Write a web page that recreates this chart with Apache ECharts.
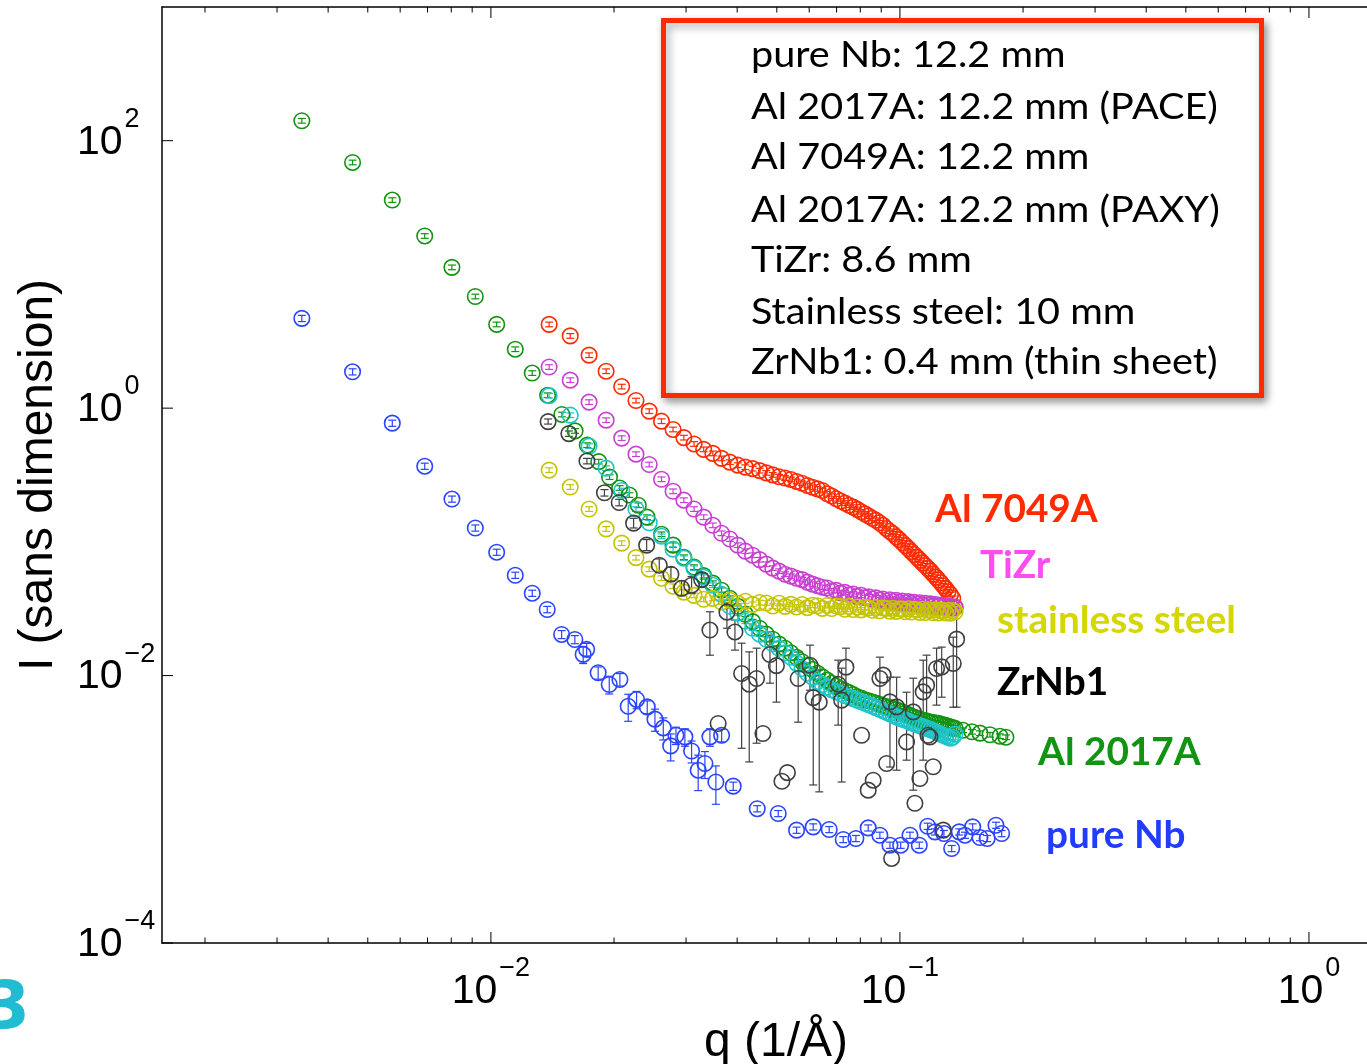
<!DOCTYPE html>
<html>
<head>
<meta charset="utf-8">
<script src="https://cdn.jsdelivr.net/npm/echarts@6/dist/echarts.min.js"></script>
<style>
  html, body { margin: 0; padding: 0; background: #fff; }
  #chart { width: 1367px; height: 1064px; }
</style>
</head>
<body>
<div id="chart"></div>
<script>
// q grid shared by the PAXY runs (1/Å)
const qGrid = [0.01388, 0.01563, 0.01738, 0.01913, 0.02088, 0.02263, 0.02438, 0.02613, 0.02788, 0.02963,
  0.03138, 0.03313, 0.03488, 0.03663, 0.03838, 0.04013, 0.04188, 0.04363, 0.04538, 0.04713,
  0.04888, 0.05063, 0.05238, 0.05413, 0.05588, 0.05763, 0.05938, 0.06113, 0.06288, 0.06463,
  0.06638, 0.06813, 0.06988, 0.07163, 0.07338, 0.07513, 0.07688, 0.07863, 0.08038, 0.08213,
  0.08388, 0.08563, 0.08738, 0.08913, 0.09088, 0.09263, 0.09438, 0.09613, 0.09788, 0.09963,
  0.1014, 0.1031, 0.1049, 0.1066, 0.1084, 0.1101, 0.1119, 0.1136, 0.1154, 0.1171,
  0.1189, 0.1206, 0.1224, 0.1241, 0.1259, 0.1276, 0.1294, 0.1311, 0.1329, 0.1346, 0.1364];

// Al 7049A
const al7049I = [4.23, 3.47, 2.49, 1.89, 1.45, 1.14, 0.950, 0.799, 0.693, 0.602,
  0.540, 0.492, 0.459, 0.421, 0.395, 0.375, 0.362, 0.353, 0.341, 0.328,
  0.317, 0.307, 0.300, 0.293, 0.283, 0.274, 0.264, 0.256, 0.249, 0.242,
  0.229, 0.220, 0.210, 0.202, 0.195, 0.188, 0.182, 0.175, 0.168, 0.162,
  0.156, 0.150, 0.145, 0.139, 0.133, 0.126, 0.120, 0.115, 0.109, 0.104,
  0.0986, 0.0937, 0.0890, 0.0845, 0.0805, 0.0766, 0.0730, 0.0693, 0.0663, 0.0633,
  0.0604, 0.0573, 0.0545, 0.0520, 0.0494, 0.0470, 0.0447, 0.0424, 0.0403, 0.0379, 0.0325];

// TiZr
const tizrI = [2.03, 1.62, 1.11, 0.813, 0.597, 0.453, 0.379, 0.294, 0.239, 0.205,
  0.176, 0.153, 0.133, 0.116, 0.105, 0.0945, 0.0852, 0.0795, 0.0736, 0.0681,
  0.0636, 0.0604, 0.0573, 0.0554, 0.0535, 0.0522, 0.0500, 0.0483, 0.0470, 0.0458,
  0.0452, 0.0431, 0.0434, 0.0415, 0.0419, 0.0402, 0.0407, 0.0391, 0.0399, 0.0383,
  0.0388, 0.0374, 0.0381, 0.0368, 0.0374, 0.0361, 0.0369, 0.0358, 0.0365, 0.0353,
  0.0361, 0.0350, 0.0357, 0.0346, 0.0353, 0.0343, 0.0350, 0.0339, 0.0347, 0.0336,
  0.0344, 0.0332, 0.0340, 0.0329, 0.0337, 0.0326, 0.0334, 0.0323, 0.0329, 0.0319, 0.0322];

// stainless steel
const steelI = [0.344, 0.257, 0.176, 0.125, 0.0978, 0.0762, 0.0625, 0.0535, 0.0466, 0.0421,
  0.0398, 0.0372, 0.0378, 0.0355, 0.0366, 0.0347, 0.0360, 0.0341, 0.0352, 0.0349,
  0.0331, 0.0347, 0.0329, 0.0341, 0.0326, 0.0340, 0.0322, 0.0336, 0.0333, 0.0318,
  0.0334, 0.0317, 0.0331, 0.0328, 0.0313, 0.0329, 0.0312, 0.0326, 0.0310, 0.0324,
  0.0321, 0.0308, 0.0323, 0.0305, 0.0320, 0.0318, 0.0303, 0.0319, 0.0302, 0.0316,
  0.0314, 0.0300, 0.0316, 0.0299, 0.0313, 0.0311, 0.0297, 0.0313, 0.0296, 0.0311,
  0.0309, 0.0295, 0.0310, 0.0294, 0.0309, 0.0307, 0.0294, 0.0308, 0.0293, 0.0307, 0.0300];

// Al 2017A (PAXY)
const paxyI = [1.24, 0.886, 0.520, 0.356, 0.242, 0.176, 0.139, 0.110, 0.0882, 0.0755,
  0.0636, 0.0545, 0.0474, 0.0406, 0.0330, 0.0293, 0.0255, 0.0226, 0.0204, 0.0187,
  0.0173, 0.0160, 0.0148, 0.0137, 0.0124, 0.0113, 0.0104, 0.00973, 0.00901, 0.00855,
  0.00819, 0.00784, 0.00758, 0.00732, 0.00707, 0.00689, 0.00672, 0.00655, 0.00638, 0.00622,
  0.00606, 0.00590, 0.00575, 0.00561, 0.00546, 0.00532, 0.00519, 0.00506, 0.00493, 0.00480,
  0.00472, 0.00464, 0.00456, 0.00444, 0.00437, 0.00429, 0.00422, 0.00415, 0.00408, 0.00401,
  0.00394, 0.00387, 0.00380, 0.00371, 0.00365, 0.00358, 0.00352, 0.00346, 0.00340, 0.00346, 0.00365];

// Al 2017A (PACE): low q, then on qGrid from index 7, then tail
const paceLowQ = [0.00345, 0.00459, 0.00574, 0.00689, 0.00803, 0.00916, 0.01033, 0.01147, 0.01262, 0.01376,
  0.01491, 0.01606, 0.01720, 0.01835, 0.01950, 0.02064, 0.02179, 0.02293, 0.02408];
const paceLowI = [141, 68.8, 36.0, 19.4, 11.3, 6.84, 4.23, 2.76, 1.83, 1.25,
  0.897, 0.676, 0.529, 0.398, 0.305, 0.253, 0.224, 0.188, 0.153];
const paceMidI = [0.114, 0.0945, 0.0768, 0.0647, 0.0559, 0.0491, 0.0435, 0.0379, 0.0330, 0.0288,
  0.0253, 0.0226, 0.0204, 0.0187, 0.0172, 0.0160, 0.0148, 0.0137, 0.0127, 0.0119,
  0.0111, 0.0104, 0.00981, 0.00924, 0.00877, 0.00833, 0.00798, 0.00771, 0.00745, 0.00720,
  0.00695, 0.00678, 0.00660, 0.00649, 0.00635, 0.00622, 0.00609, 0.00597, 0.00587, 0.00578,
  0.00570, 0.00558, 0.00546, 0.00534, 0.00523, 0.00510, 0.00497, 0.00489, 0.00480, 0.00472,
  0.00465, 0.00460, 0.00454, 0.00450, 0.00446, 0.00442, 0.00439, 0.00434, 0.00429, 0.00424,
  0.00418, 0.00413, 0.00408, 0.00403];
const paceTailQ = [0.1426, 0.1500, 0.1569, 0.1660, 0.1756, 0.1816];
const paceTailI = [0.00390, 0.00380, 0.00371, 0.00361, 0.00352, 0.00346];

// pure Nb
const nbQ = [0.00345, 0.00459, 0.00574, 0.00689, 0.00803, 0.00916, 0.01033, 0.01147, 0.01262, 0.01373,
  0.01489, 0.01604, 0.01681, 0.01714, 0.01829, 0.01947, 0.02067, 0.02166, 0.02271, 0.02411,
  0.02518, 0.02639, 0.02751, 0.02834, 0.02980, 0.03095, 0.03212, 0.03336, 0.03431, 0.03548,
  0.03665, 0.03912, 0.04478, 0.05040, 0.05589, 0.06138, 0.06716, 0.07267, 0.07804, 0.08364,
  0.08933, 0.09454, 0.1004, 0.1058, 0.1115, 0.1169, 0.1218, 0.1281, 0.1338, 0.1396,
  0.1442, 0.1506, 0.1569, 0.1634, 0.1717, 0.1773];
const nbI = [4.69, 1.87, 0.772, 0.368, 0.209, 0.127, 0.0837, 0.0563, 0.0413, 0.0312,
  0.0203, 0.0186, 0.0144, 0.0157, 0.0105, 0.00858, 0.00935, 0.00590, 0.00663, 0.00583,
  0.00472, 0.00406, 0.00298, 0.00358, 0.00348, 0.00273, 0.00196, 0.00220, 0.00348, 0.00160,
  0.00358, 0.00149, 0.00101, 0.000930, 0.000698, 0.000739, 0.000706, 0.000594, 0.000605, 0.000726,
  0.000640, 0.000539, 0.000539, 0.000640, 0.000539, 0.000747, 0.000678, 0.000659, 0.000509, 0.000678,
  0.000640, 0.000739, 0.000615, 0.000605, 0.000760, 0.000659];
const nbErr = [0.25, 0.099, 0.041, 0.0195, 0.011, 0.0067, 0.0044, 0.0030, 0.0022, 0.0017,
  0.0014, 0.0013, 0.0021, 0.0017, 0.0011, 0.0013, 0.0010, 0.00135, 0.00098, 0.00064,
  0.00089, 0.00076, 0.00068, 0.00053, 0.00052, 0.00051, 0.00058, 0.00050, 0.00052, 0.00051,
  0.00039, 0.000106, 0.000054, 0.000049, 0.000037, 0.000039, 0.000037, 0.000031, 0.000032, 0.000038,
  0.000034, 0.000029, 0.000029, 0.000034, 0.000029, 0.000040, 0.000036, 0.000035, 0.000027, 0.000036,
  0.000034, 0.000039, 0.000033, 0.000032, 0.000040, 0.000035];

// ZrNb1 (thin sheet): value and error bar ends (null = no bar drawn)
const zrQ = [0.01380, 0.01551, 0.01717, 0.01895, 0.02059, 0.02233, 0.02403, 0.02580, 0.02755, 0.02926,
  0.03095, 0.03275, 0.03431, 0.03594, 0.03776, 0.03950, 0.04102, 0.04281, 0.04462, 0.04624,
  0.04811, 0.04989, 0.05146, 0.05308, 0.05639, 0.06026, 0.06138, 0.06349, 0.07064, 0.07202,
  0.07379, 0.08059, 0.08364, 0.08602, 0.08933, 0.09101, 0.09277, 0.09454, 0.09543, 0.09815,
  0.1038, 0.1078, 0.1088, 0.1119, 0.1140, 0.1162, 0.1171, 0.1184, 0.1206, 0.1229,
  0.1265, 0.1276, 0.1350, 0.1376];
const zrI = [0.793, 0.645, 0.402, 0.233, 0.197, 0.138, 0.0945, 0.0669, 0.0573, 0.0450,
  0.0474, 0.0522, 0.0219, 0.00438, 0.0298, 0.0212, 0.01037, 0.00862, 0.00951, 0.00369,
  0.01438, 0.01186, 0.00162, 0.00188, 0.00951, 0.01196, 0.00684, 0.00633, 0.00862, 0.00655,
  0.01156, 0.00358, 0.00139, 0.00165, 0.00951, 0.01007, 0.00220, 0.00636, 0.000429, 0.00583,
  0.00319, 0.00535, 0.00111, 0.00170, 0.00755, 0.00848, 0.00358, 0.00348, 0.00208, 0.01130,
  0.01162, 0.000698, 0.01232, 0.01872];
const zrLo = [0.76, 0.615, 0.383, 0.220, 0.186, 0.127, 0.0860, 0.0600, 0.0510, 0.0395,
  0.0410, 0.0460, 0.0142, null, 0.0226, 0.0155, 0.00286, 0.00226, 0.00312, null,
  0.00877, 0.00633, null, null, 0.00448, 0.00777, 0.00152, 0.00135, 0.00426, 0.00160,
  0.00777, null, null, null, 0.00580, null, null, 0.00207, null, 0.00196,
  0.00233, 0.00139, null, null, 0.00233, 0.00358, null, null, null, 0.00601,
  0.00689, null, 0.00580, 0.00580];
const zrHi = [0.83, 0.675, 0.421, 0.246, 0.208, 0.150, 0.1040, 0.0745, 0.0645, 0.0512,
  0.0550, 0.0590, 0.0300, null, 0.0348, 0.0260, 0.01747, 0.01504, 0.01603, null,
  0.02006, 0.01660, null, null, 0.01496, 0.01688, 0.01136, 0.01098, 0.01304, 0.01136,
  0.01603, null, null, null, 0.01373, null, null, 0.00973, null, 0.00973,
  0.00751, 0.00956, null, null, 0.01304, 0.01421, null, null, null, 0.01603,
  0.01632, null, 0.01938, 0.03191];

// relative size of the small error bars drawn inside the circles
const smallErr = 0.04;

// tick positions
const xMajorTicks = [0.01, 0.1, 1];
const xMinorTicks = [0.002, 0.003, 0.004, 0.005, 0.006, 0.007, 0.008, 0.009,
  0.02, 0.03, 0.04, 0.05, 0.06, 0.07, 0.08, 0.09,
  0.2, 0.3, 0.4, 0.5, 0.6, 0.7, 0.8, 0.9];
const yMajorTicks = [1e-4, 1e-2, 1, 1e2];

// text
const boxLines = ['pure Nb: 12.2 mm', 'Al 2017A: 12.2 mm (PACE)', 'Al 7049A: 12.2 mm',
  'Al 2017A: 12.2 mm (PAXY)', 'TiZr: 8.6 mm', 'Stainless steel: 10 mm', 'ZrNb1: 0.4 mm (thin sheet)'];
const sampleNames = ['Al 7049A', 'TiZr', 'stainless steel', 'ZrNb1', 'Al 2017A', 'pure Nb'];

const C = {
  nb: '#2a44ff', pace: '#129412', al7049: '#ff2a00', paxy: '#20c4c8',
  tizr: '#c840d0', steel: '#c4c400', zr: '#404040'
};

const chart = echarts.init(document.getElementById('chart'));

const pairs = (q, I) => q.map((x, i) => [x, I[i]]);

const circles = (color, data) => ({
  type: 'scatter', symbol: 'circle', symbolSize: 15.5, data: data,
  itemStyle: { color: 'rgba(0,0,0,0)', borderColor: color, borderWidth: 1.6, opacity: 1 },
  emphasis: { disabled: true }, silent: true, animation: false
});

const errBars = (color, rows) => ({
  type: 'custom', data: rows, silent: true, animation: false,
  renderItem: function (params, api) {
    const hi = api.coord([api.value(0), api.value(2)]);
    const lo = api.coord([api.value(0), api.value(1)]);
    const w = 4;
    const st = { stroke: color, lineWidth: 1.2 };
    return {
      type: 'group', children: [
        { type: 'line', shape: { x1: hi[0], y1: hi[1], x2: lo[0], y2: lo[1] }, style: st },
        { type: 'line', shape: { x1: hi[0] - w, y1: hi[1], x2: hi[0] + w, y2: hi[1] }, style: st },
        { type: 'line', shape: { x1: lo[0] - w, y1: lo[1], x2: lo[0] + w, y2: lo[1] }, style: st }
      ]
    };
  }
});

const relRows = (q, I) => q.map((x, i) => [x, I[i] * (1 - smallErr), I[i] * (1 + smallErr)]);

const paceQ = paceLowQ.concat(qGrid.slice(7), paceTailQ);
const paceI = paceLowI.concat(paceMidI, paceTailI);

const nbRows = nbQ.map((x, i) => [x, nbI[i] - nbErr[i], nbI[i] + nbErr[i]]);
const zrRows = [];
zrQ.forEach((x, i) => { if (zrLo[i] != null) zrRows.push([x, zrLo[i], zrHi[i]]); });

const decade = (v) => {
  const e = Math.log10(v);
  const r = Math.round(e);
  if (Math.abs(e - r) > 1e-6) return null;
  return r;
};
const supText = (r) => '{b|10}{s|' + (r < 0 ? '\u2212' + (-r) : String(r)) + '}';
const labelRich = {
  b: { fontSize: 41, fontFamily: 'Liberation Sans', color: '#000', verticalAlign: 'bottom', padding: [16, 0, 0, 0] },
  s: { fontSize: 27, fontFamily: 'Liberation Sans', color: '#000', verticalAlign: 'top', padding: [0, 0, 0, 2] }
};

const tickSeries = {
  type: 'custom', data: [[0.01, 1]], silent: true, animation: false, z: 5,
  renderItem: function (params, api) {
    const cs = params.coordSys;
    const kids = [];
    const add = (x1, y1, x2, y2) => kids.push({ type: 'line', shape: { x1, y1, x2, y2 }, style: { stroke: '#000', lineWidth: 1 } });
    const bottom = cs.y + cs.height;
    xMajorTicks.forEach(v => { const x = api.coord([v, 1])[0]; add(x, bottom, x, bottom - 11); add(x, cs.y, x, cs.y + 11); });
    xMinorTicks.forEach(v => { const x = api.coord([v, 1])[0]; add(x, bottom, x, bottom - 5.5); add(x, cs.y, x, cs.y + 5.5); });
    yMajorTicks.forEach(v => { const y = api.coord([0.01, v])[1]; add(cs.x, y, cs.x + 11, y); });
    return { type: 'group', children: kids };
  }
};

const boxLineY = [55, 107, 157, 210, 260, 312, 362];
const sampleLabelPos = [[935, 510], [980, 566], [997, 621], [997, 683], [1038, 753], [1046, 836]];
const sampleLabelColor = ['#ff2a00', '#ff4cf0', '#d6d600', '#000000', '#129412', '#1f3cff'];

const graphics = [
  {
    type: 'rect', z: 50,
    shape: { x: 663.5, y: 20.5, width: 598, height: 375 },
    style: { fill: '#fff', stroke: '#ff2a00', lineWidth: 5, shadowBlur: 8, shadowOffsetX: 3, shadowOffsetY: 4, shadowColor: 'rgba(0,0,0,0.35)' }
  },
  {
    type: 'text', z: 60, x: -16, y: 978,
    style: { text: '3', font: 'bold 66px "DejaVu Sans"', fill: '#1fbcd2', verticalAlign: 'top' }
  }
];
boxLines.forEach((t, i) => graphics.push({
  type: 'text', z: 60, x: 751, y: boxLineY[i], scaleX: 1.07,
  style: { text: t, font: '37px Lato', fill: '#000', verticalAlign: 'middle' }
}));
sampleNames.forEach((t, i) => graphics.push({
  type: 'text', z: 60, x: sampleLabelPos[i][0], y: sampleLabelPos[i][1], scaleX: 1.02,
  style: { text: t, font: 'bold 38px Lato', fill: sampleLabelColor[i], verticalAlign: 'middle' }
}));

chart.setOption({
  animation: false,
  backgroundColor: '#fff',
  grid: { left: 162, top: 7, width: 1228, height: 936, outerBoundsMode: 'none', containLabel: false },
  xAxis: [{
    type: 'log', min: 0.00157, max: 1.578,
    name: 'q (1/\u00c5)', nameLocation: 'middle', nameGap: 76, nameMoveOverlap: false,
    nameTextStyle: { fontSize: 48, fontFamily: 'Liberation Sans', color: '#000' },
    axisLine: { show: true, onZero: false, lineStyle: { color: '#000', width: 1.5 } },
    axisTick: { show: false },
    splitLine: { show: false },
    axisLabel: {
      margin: 12, showMinLabel: false, showMaxLabel: false, rich: labelRich,
      formatter: v => { const r = decade(v); return r == null ? '' : supText(r); }
    }
  }, {
    type: 'log', min: 0.00157, max: 1.578, position: 'top',
    axisLine: { show: true, onZero: false, lineStyle: { color: '#000', width: 1.5 } },
    axisTick: { show: false }, axisLabel: { show: false }, splitLine: { show: false }
  }],
  yAxis: {
    type: 'log', min: 1e-4, max: 1e3,
    name: 'I (sans dimension)', nameLocation: 'middle', nameGap: 99, nameMoveOverlap: false,
    nameTextStyle: { fontSize: 48, fontFamily: 'Liberation Sans', color: '#000' },
    axisLine: { show: true, onZero: false, lineStyle: { color: '#000', width: 1.5 } },
    axisTick: { show: false },
    splitLine: { show: false },
    axisLabel: {
      margin: 85, align: 'left', padding: [0, 0, 13, 0], rich: labelRich,
      formatter: v => { const r = decade(v); return (r == null || r % 2 !== 0) ? '' : supText(r); }
    }
  },
  graphic: graphics,
  series: [
    errBars(C.nb, nbRows), circles(C.nb, pairs(nbQ, nbI)),
    errBars(C.pace, relRows(paceQ, paceI)), circles(C.pace, pairs(paceQ, paceI)),
    errBars(C.al7049, relRows(qGrid, al7049I)), circles(C.al7049, pairs(qGrid, al7049I)),
    errBars(C.paxy, relRows(qGrid, paxyI)), circles(C.paxy, pairs(qGrid, paxyI)),
    errBars(C.tizr, relRows(qGrid, tizrI)), circles(C.tizr, pairs(qGrid, tizrI)),
    errBars(C.steel, relRows(qGrid, steelI)), circles(C.steel, pairs(qGrid, steelI)),
    errBars(C.zr, zrRows), circles(C.zr, pairs(zrQ, zrI)),
    tickSeries
  ]
});

window.addEventListener('resize', () => chart.resize());
</script>
</body>
</html>
